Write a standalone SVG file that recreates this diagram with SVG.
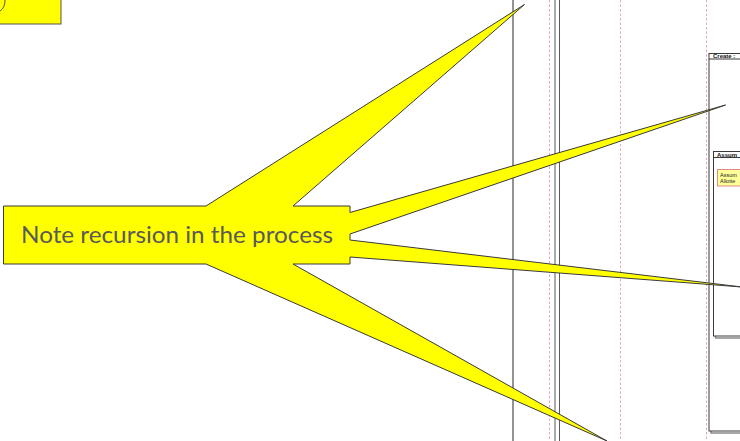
<svg xmlns="http://www.w3.org/2000/svg" width="740" height="441" viewBox="0 0 740 441">
  <style>
    .life { stroke: #5a5a5a; stroke-width: 1.3; fill: none; }
    .dash { stroke: #e8a6b8; stroke-width: 1; stroke-dasharray: 2.5 2; fill: none; }
    .frame { fill: #ffffff; stroke: #3a3a3a; stroke-width: 1; }
    .shadow { fill: none; stroke: #8a8a8a; stroke-width: 1.5; }
    .hdr { font-family: "Liberation Sans", Arial, sans-serif; font-size: 6px; font-weight: bold; fill: #111; }
    .small { font-family: "Liberation Sans", Arial, sans-serif; font-size: 5.5px; fill: #222; }
    .callout { fill: #ffff00; stroke: #3a3a3a; stroke-width: 1; stroke-linejoin: miter; }
  </style>

  <rect x="0" y="0" width="740" height="441" fill="#ffffff"/>

  <g id="top-left-box">
    <rect x="-1" y="-1" width="62" height="25" fill="#ffff00" stroke="#555" stroke-width="1"/>
    <path d="M0,11 Q5,8 5,0" fill="none" stroke="#555" stroke-width="1"/>
  </g>

  <g id="lifelines">
    <line class="life" x1="513" y1="0" x2="513" y2="441"/>
    <line class="dash" x1="549.5" y1="0" x2="549.5" y2="441"/>
    <rect x="555" y="-2" width="4.5" height="445" fill="#ffffff" stroke="#5a5a5a" stroke-width="1"/>
    <line class="dash" x1="620.5" y1="0" x2="620.5" y2="441"/>
    <line class="dash" x1="706.5" y1="0" x2="706.5" y2="441"/>
  </g>

  <g id="create-frame">
    <rect class="shadow" x="711" y="55" width="40" height="378"/>
    <rect class="frame" x="709" y="53.5" width="40" height="377.5"/>
    <line x1="709" y1="59" x2="749" y2="59" stroke="#3a3a3a" stroke-width="1"/>
    <text class="hdr" x="713" y="58">Create :</text>
  </g>

  <g id="assume-frame">
    <rect class="shadow" x="715.5" y="153" width="30" height="185"/>
    <rect class="frame" x="713.5" y="151.5" width="30" height="184.5"/>
    <line x1="713.5" y1="157.5" x2="743.5" y2="157.5" stroke="#3a3a3a" stroke-width="1"/>
    <text class="hdr" x="717" y="156.5">Assum</text>
    <rect x="717.5" y="169.5" width="30" height="16.5" fill="#ffff99" stroke="#e08a8a" stroke-width="1"/>
    <text class="small" x="720" y="176.5">Assum</text>
    <text class="small" x="720" y="182.5">Allotte</text>
  </g>

  <g id="callout">
    <polygon class="callout" points="3.5,206 206,206 524.5,4.5 293,206 350,206 350,212.5 725.5,105 350,234 350,240 742,287 350,257 350,264 293,264 607,441 206,264 3.5,264"/>
    <text x="21" y="243" font-family="Lato, 'Liberation Sans', sans-serif" font-size="22.5" fill="#595959" textLength="312" lengthAdjust="spacingAndGlyphs">Note recursion in the process</text>
  </g>
</svg>
